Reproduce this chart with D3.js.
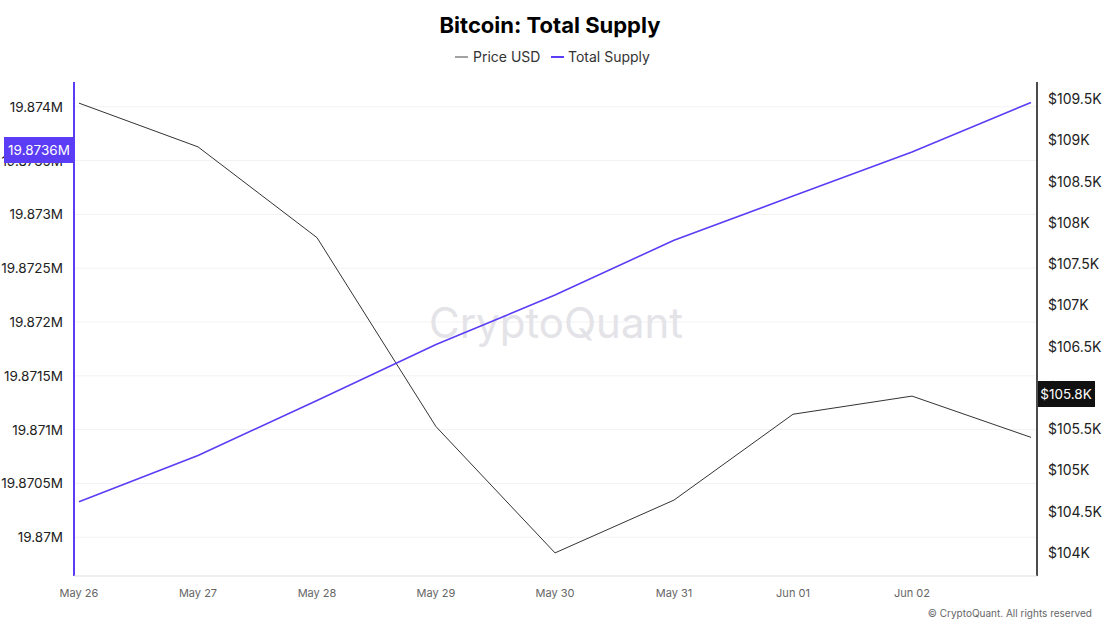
<!DOCTYPE html><html><head><meta charset="utf-8"><script src="https://cdn.jsdelivr.net/npm/d3@7"></script>
<style>body{margin:0;background:#fff;font-family:Inter,"Noto Sans",sans-serif}</style></head><body><svg id="c" width="1112" height="625"></svg>
<script>
const dates=["May 26","May 27","May 28","May 29","May 30","May 31","Jun 01","Jun 02","Jun 03"];
const supply=[19.87033,19.87076,19.87127,19.87179,19.87225,19.87276,19.87317,19.87358,19.87404];
const price=[109.45,108.92,107.82,105.53,104.0,104.64,105.68,105.90,105.40];
const leftTicks=[19.87,19.8705,19.871,19.8715,19.872,19.8725,19.873,19.8735,19.874];
const rightTicks=[104,104.5,105,105.5,106,106.5,107,107.5,108,108.5,109,109.5];
const svg=d3.select("#c");
const x=d3.scalePoint().domain(dates).range([79,1031]);
const yl=d3.scaleLinear().domain([19.86964,19.87423]).range([576,82]);
const yr=d3.scaleLinear().domain([103.72,109.706]).range([576,82]);
svg.append("text").attr("x",550).attr("y",33).attr("text-anchor","middle").attr("font-size",22).attr("font-weight",700).text("Bitcoin: Total Supply");
const lg=svg.append("g").attr("font-size",14).attr("fill","#333");
lg.append("line").attr("x1",455).attr("x2",468).attr("y1",57).attr("y2",57).attr("stroke","#444");
lg.append("text").attr("x",473).attr("y",62).text("Price USD");
lg.append("line").attr("x1",551).attr("x2",564).attr("y1",57).attr("y2",57).attr("stroke","#5b3df5").attr("stroke-width",2);
lg.append("text").attr("x",568).attr("y",62).text("Total Supply");
svg.append("g").selectAll("line").data(leftTicks).join("line").attr("x1",74).attr("x2",1037).attr("y1",d=>yl(d)).attr("y2",d=>yl(d)).attr("stroke","#f2f2f2");
svg.append("text").attr("x",556).attr("y",338).attr("text-anchor","middle").attr("font-size",42).attr("fill","#e3e3e8").text("CryptoQuant");
svg.append("g").selectAll("text").data(leftTicks).join("text").attr("x",63).attr("y",d=>yl(d)+5).attr("text-anchor","end").attr("font-size",13.5).attr("fill","#222").text(d=>d3.format(".6~f")(d)+"M");
svg.append("g").selectAll("text").data(rightTicks).join("text").attr("x",1048).attr("y",d=>yr(d)+5).attr("font-size",14).attr("fill","#222").text(d=>"$"+d3.format("~f")(d)+"K");
svg.append("g").selectAll("text").data(dates.slice(0,8)).join("text").attr("x",d=>x(d)).attr("y",597).attr("text-anchor","middle").attr("font-size",11).attr("fill","#666").text(d=>d);
svg.append("line").attr("x1",74).attr("x2",74).attr("y1",82).attr("y2",576).attr("stroke","#5b3df5").attr("stroke-width",2);
svg.append("line").attr("x1",1037).attr("x2",1037).attr("y1",82).attr("y2",576).attr("stroke","#111").attr("stroke-width",1.5);
svg.append("line").attr("x1",74).attr("x2",1037).attr("y1",576).attr("y2",576).attr("stroke","#ddd");
svg.append("path").datum(price).attr("fill","none").attr("stroke","#333").attr("stroke-width",1).attr("d",d3.line().x((d,i)=>x(dates[i])).y(d=>yr(d)));
svg.append("path").datum(supply).attr("fill","none").attr("stroke","#5b3df5").attr("stroke-width",1.6).attr("d",d3.line().x((d,i)=>x(dates[i])).y(d=>yl(d)));
svg.append("rect").attr("x",4).attr("y",137).attr("width",70).attr("height",26).attr("fill","#5b3df5");
svg.append("text").attr("x",39).attr("y",155).attr("text-anchor","middle").attr("font-size",13.5).attr("fill","#fff").text("19.8736M");
svg.append("rect").attr("x",1038).attr("y",381).attr("width",57).attr("height",26).attr("fill","#111");
svg.append("text").attr("x",1066).attr("y",399).attr("text-anchor","middle").attr("font-size",13.5).attr("fill","#fff").text("$105.8K");
svg.append("text").attr("x",1092).attr("y",617).attr("text-anchor","end").attr("font-size",10).attr("fill","#666").text("© CryptoQuant. All rights reserved");
</script></body></html>
